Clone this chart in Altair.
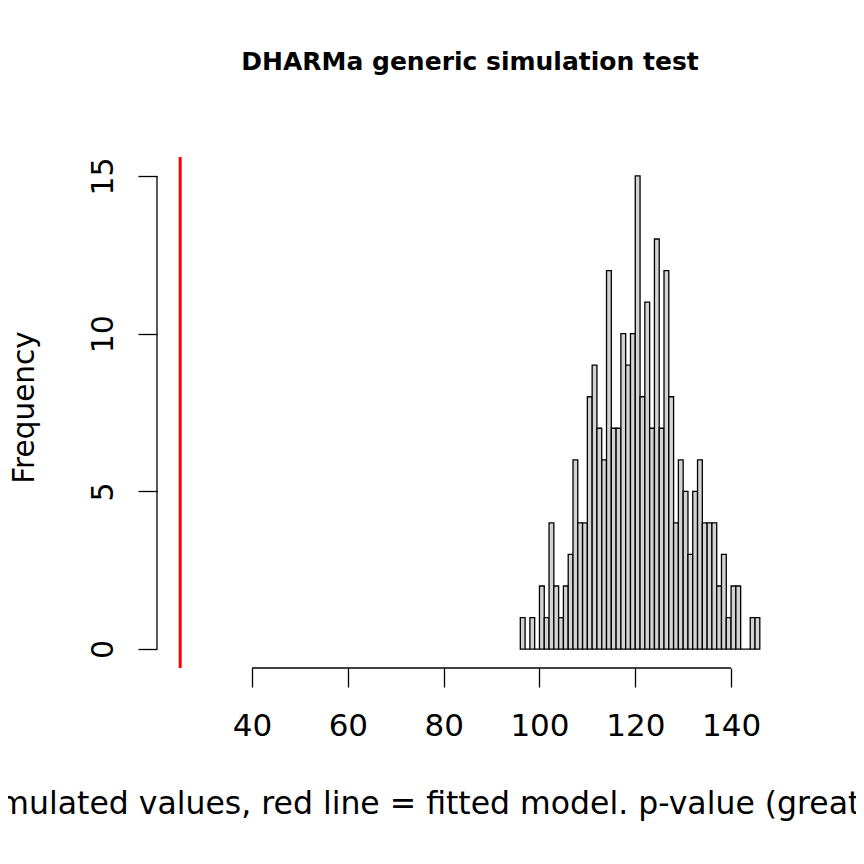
import altair as alt
import pandas as pd

# Histogram bins (left edges, width 1) and counts
bin_starts = list(range(96, 146))
counts = [1, 0, 1, 0, 2, 1, 4, 2, 1, 2,
          3, 6, 4, 4, 8, 9, 7, 6, 12, 7,
          7, 10, 9, 10, 15, 8, 11, 7, 13, 7,
          12, 8, 4, 6, 5, 3, 5, 6, 4, 4,
          4, 2, 3, 1, 2, 2, 0, 0, 1, 1]
observed = 25
x_ticks = [40, 60, 80, 100, 120, 140]
y_ticks = [0, 5, 10, 15]

title_text = "DHARMa generic simulation test"
x_title = "Simulated values, red line = fitted model. p-value (greater) = 1"
y_title = "Frequency"

# R-style axis extension (4%)
x_lo, x_hi = 25, 146
xr = (x_hi - x_lo) * 0.04
X_MIN, X_MAX = x_lo - xr, x_hi + xr
y_lo, y_hi = 0, 15
yr = (y_hi - y_lo) * 0.04
Y_MIN, Y_MAX = y_lo - yr, y_hi + yr

df = pd.DataFrame({"start": bin_starts,
                   "end": [b + 1 for b in bin_starts],
                   "count": counts})

FONT = "DejaVu Sans"
W, H = 626, 511

xscale = alt.Scale(domain=[X_MIN, X_MAX], nice=False, zero=False)
yscale = alt.Scale(domain=[Y_MIN, Y_MAX], nice=False, zero=False)

xaxis = alt.Axis(values=x_ticks, domain=False, grid=False, tickSize=19,
                 tickWidth=1.3, tickColor="black", labelFont=FONT,
                 labelFontSize=31, labelColor="black", labelPadding=24,
                 labelFlush=False, labelOverlap=False,
                 title=x_title, titleFont=FONT, titleFontSize=31.5,
                 titleFontWeight="normal", titleColor="black",
                 titleBaseline="alphabetic", titleX=W / 2, titleY=145,
                 titleAnchor="middle", titleLimit=2000)
yaxis = alt.Axis(values=y_ticks, domain=False, grid=False, tickSize=19,
                 tickWidth=1.3, tickColor="black", labelFont=FONT,
                 labelFontSize=30, labelColor="black", labelPadding=20,
                 labelAngle=-90, labelAlign="center", labelBaseline="bottom",
                 labelFlush=False, labelOverlap=False,
                 title=y_title, titleFont=FONT, titleFontSize=29.5,
                 titleFontWeight="normal", titleColor="black",
                 titleAngle=-90, titleBaseline="alphabetic",
                 titleX=-124, titleY=250, titleAnchor="middle")

bars = alt.Chart(df).mark_rect(fill="#d3d3d3", stroke="black",
                               strokeWidth=1.3).encode(
    x=alt.X("start:Q", scale=xscale, axis=xaxis),
    x2="end:Q",
    y=alt.Y("count:Q", scale=yscale, axis=yaxis),
    y2=alt.datum(0),
)

xdomain = alt.Chart().mark_rule(color="black", strokeWidth=1.3).encode(
    x=alt.datum(x_ticks[0]), x2=alt.datum(x_ticks[-1]), y=alt.datum(Y_MIN))
ydomain = alt.Chart().mark_rule(color="black", strokeWidth=1.3).encode(
    y=alt.datum(y_ticks[0]), y2=alt.datum(y_ticks[-1]), x=alt.datum(X_MIN))
redline = alt.Chart().mark_rule(color="red", strokeWidth=3).encode(
    x=alt.datum(observed), y=alt.datum(Y_MIN), y2=alt.datum(Y_MAX))

chart = alt.layer(bars, xdomain, ydomain, redline).properties(
    width=W, height=H,
    title=alt.TitleParams(text=title_text, font=FONT, fontSize=25,
                          fontWeight="bold", color="black", anchor="middle",
                          frame="group", baseline="alphabetic", offset=61),
    autosize=alt.AutoSizeParams(type="none"),
    padding={"left": 149, "top": 149, "right": 73, "bottom": 188},
).configure(background="white").configure_view(strokeWidth=0, stroke="transparent")

chart.save("out.html", embed_options={"renderer": "svg", "actions": False})
